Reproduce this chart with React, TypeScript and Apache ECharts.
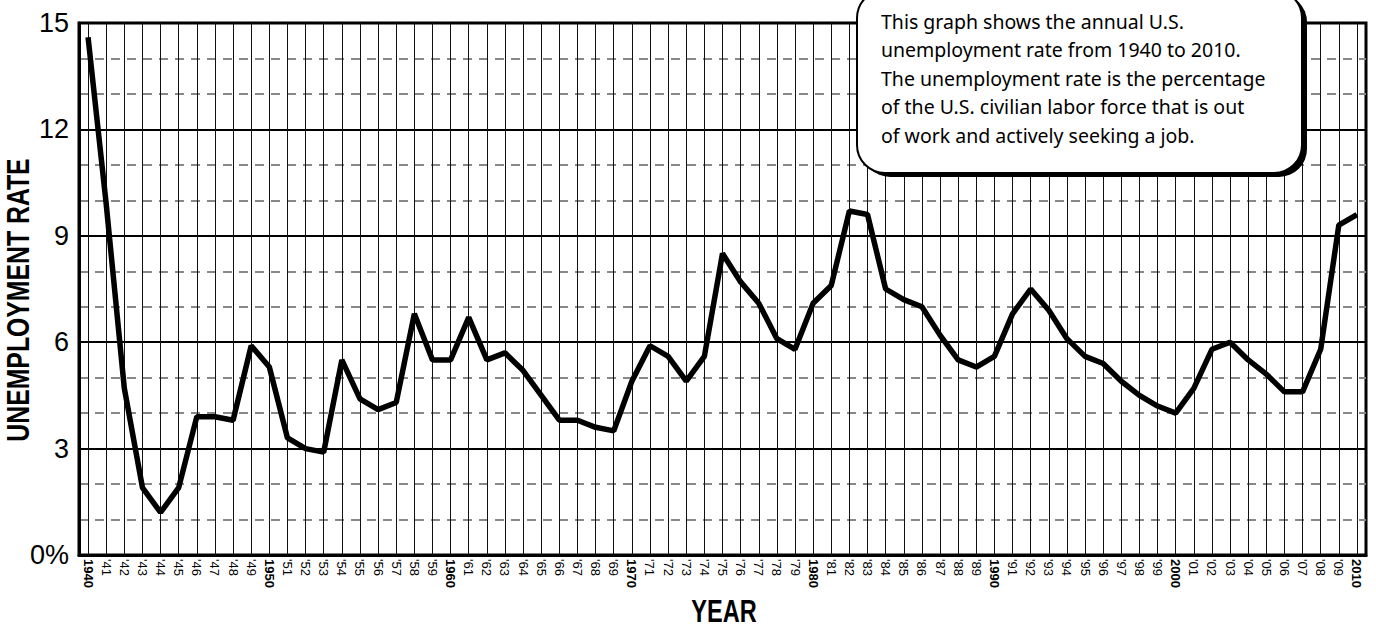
import React, { useEffect, useRef } from 'react';
import * as echarts from 'echarts';

const YEAR_LABELS = [
  '1940', "'41", "'42", "'43", "'44", "'45", "'46", "'47", "'48", "'49",
  '1950', "'51", "'52", "'53", "'54", "'55", "'56", "'57", "'58", "'59",
  '1960', "'61", "'62", "'63", "'64", "'65", "'66", "'67", "'68", "'69",
  '1970', "'71", "'72", "'73", "'74", "'75", "'76", "'77", "'78", "'79",
  '1980', "'81", "'82", "'83", "'84", "'85", "'86", "'87", "'88", "'89",
  '1990', "'91", "'92", "'93", "'94", "'95", "'96", "'97", "'98", "'99",
  '2000', "'01", "'02", "'03", "'04", "'05", "'06", "'07", "'08", "'09",
  '2010',
];

const RATES = [
  14.6, 9.9, 4.7, 1.9, 1.2, 1.9, 3.9, 3.9, 3.8, 5.9,
  5.3, 3.3, 3.0, 2.9, 5.5, 4.4, 4.1, 4.3, 6.8, 5.5,
  5.5, 6.7, 5.5, 5.7, 5.2, 4.5, 3.8, 3.8, 3.6, 3.5,
  4.9, 5.9, 5.6, 4.9, 5.6, 8.5, 7.7, 7.1, 6.1, 5.8,
  7.1, 7.6, 9.7, 9.6, 7.5, 7.2, 7.0, 6.2, 5.5, 5.3,
  5.6, 6.8, 7.5, 6.9, 6.1, 5.6, 5.4, 4.9, 4.5, 4.2,
  4.0, 4.7, 5.8, 6.0, 5.5, 5.1, 4.6, 4.6, 5.8, 9.3,
  9.6,
];

const Y_MIN = 0;
const Y_MAX = 15;
const Y_MINOR_STEP = 1;
const Y_MAJOR_STEP = 3;

const NOTE_LINES = [
  'This graph shows the annual U.S.',
  'unemployment rate from 1940 to 2010.',
  'The unemployment rate is the percentage',
  'of the U.S. civilian labor force that is out',
  'of work and actively seeking a job.',
];

const Y_TITLE = 'UNEMPLOYMENT RATE';
const X_TITLE = 'YEAR';

const SANS = '"Liberation Sans", Arial, sans-serif';

export default function App() {
  const ref = useRef<HTMLDivElement>(null);

  useEffect(() => {
    if (!ref.current) return;
    const chart = echarts.init(ref.current, null, { renderer: 'svg' });
    chart.setOption({
      animation: false,
      backgroundColor: '#ffffff',
      grid: {
        left: 79,
        top: 23,
        right: 10,
        bottom: 73,
        show: true,
        borderColor: '#000',
        borderWidth: 3,
        backgroundColor: 'transparent',
      },
      xAxis: {
        type: 'category',
        data: YEAR_LABELS,
        boundaryGap: true,
        axisLine: { show: true, lineStyle: { color: '#000', width: 3 } },
        axisTick: {
          show: true,
          inside: true,
          length: 532,
          alignWithLabel: true,
          interval: 0,
          lineStyle: { color: '#111', width: 1 },
        },
        splitLine: { show: false },
        axisLabel: {
          interval: 0,
          rotate: -90,
          margin: 4,
          color: '#000',
          formatter: (v: string) => (v.length === 4 ? `{b|${v}}` : `{r|${v}}`),
          rich: {
            b: { fontFamily: SANS, fontSize: 13, fontWeight: 'bold', color: '#000' },
            r: { fontFamily: SANS, fontSize: 13, color: '#000' },
          },
        },
      },
      yAxis: [
        {
          type: 'value',
          min: Y_MIN,
          max: Y_MAX,
          interval: Y_MINOR_STEP,
          axisLabel: { show: false },
          axisLine: { show: false },
          axisTick: { show: false },
          splitLine: { show: true, lineStyle: { color: '#888', width: 2, type: [9, 7] } },
        },
        {
          type: 'value',
          min: Y_MIN,
          max: Y_MAX,
          interval: Y_MAJOR_STEP,
          position: 'left',
          axisLine: { show: true, onZero: false, lineStyle: { color: '#000', width: 3 } },
          axisTick: { show: false },
          axisLabel: {
            margin: 10,
            fontSize: 27,
            color: '#000',
            fontFamily: SANS,
            formatter: (v: number) => (v === 0 ? '0%' : String(v)),
          },
          splitLine: { show: true, lineStyle: { color: '#000', width: 2 } },
        },
      ],
      series: [
        {
          type: 'line',
          data: RATES,
          yAxisIndex: 1,
          symbol: 'none',
          lineStyle: { color: '#000', width: 5.5 },
          z: 5,
        },
      ],
      graphic: [
        {
          type: 'rect',
          z: 100,
          shape: { x: 862, y: -6, width: 445, height: 183, r: 28 },
          style: { fill: '#000' },
        },
        {
          type: 'rect',
          z: 101,
          shape: { x: 857, y: -10, width: 445, height: 183, r: 28 },
          style: { fill: '#fff', stroke: '#000', lineWidth: 2 },
        },
        {
          type: 'text',
          z: 102,
          x: 881,
          y: 7,
          style: {
            text: NOTE_LINES.join('\n'),
            font: '19.5px "Noto Sans", sans-serif',
            lineHeight: 28.5,
            fill: '#000',
            align: 'left',
            verticalAlign: 'top',
          },
        },
        {
          type: 'text',
          z: 102,
          x: 19,
          y: 300,
          rotation: Math.PI / 2,
          scaleX: 0.8,
          style: {
            text: Y_TITLE,
            font: 'bold 31px "Liberation Sans", Arial, sans-serif',
            fill: '#000',
            align: 'center',
            verticalAlign: 'middle',
          },
        },
        {
          type: 'text',
          z: 102,
          x: 724,
          y: 611,
          scaleX: 0.76,
          style: {
            text: X_TITLE,
            font: 'bold 31px "Liberation Sans", Arial, sans-serif',
            fill: '#000',
            align: 'center',
            verticalAlign: 'middle',
          },
        },
      ],
    });
    return () => chart.dispose();
  }, []);

  return (
    <div
      ref={ref}
      style={{ position: 'fixed', left: 0, top: 0, width: 1376, height: 628, background: '#fff' }}
    />
  );
}
